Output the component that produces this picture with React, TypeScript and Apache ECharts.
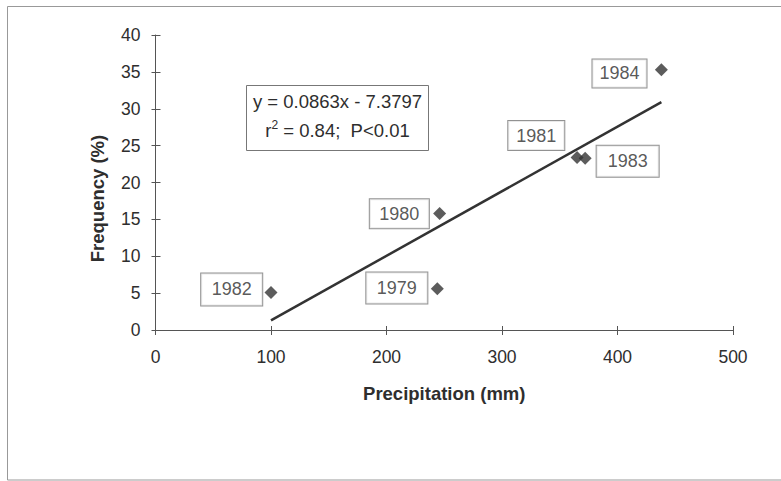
import React, { useEffect, useRef } from "react";
import * as echarts from "echarts";

// ---- data ----
const years = ["1979", "1980", "1981", "1982", "1983", "1984"];
const precipitation = [244, 246, 365, 100, 372, 438];
const frequency = [5.6, 15.8, 23.4, 5.1, 23.3, 35.3];

// regression line end points (y = 0.0863x - 7.3797)
const trendPrecip = [100, 438];
const trendFreq = [1.3, 30.9];

const xTicks = [0, 100, 200, 300, 400, 500];
const yTicks = [0, 5, 10, 15, 20, 25, 30, 35, 40];

const equationLine1 = "y = 0.0863x - 7.3797";
const equationLine2 = "r{sup|2} = 0.84;  P<0.01";

// label placement (pixel offsets from the point, and box paddings)
const labelOffsets: Record<string, [number, number]> = {
  "1979": [-40.5, -0.7],
  "1980": [-40.3, 0.3],
  "1981": [-40.8, -21.9],
  "1982": [-39.3, -2.9],
  "1983": [42.5, 3.1],
  "1984": [-41.9, 3.8],
};
const labelPads: Record<string, [number, number]> = {
  "1979": [6.5, 10.5],
  "1980": [5.5, 9.5],
  "1981": [5.5, 8],
  "1982": [7, 10.5],
  "1983": [6.5, 11],
  "1984": [5, 7],
};

const FONT = "'Liberation Sans', Arial, sans-serif";
const TEXT = "#2e2e2e";
const AXIS = "#555";

export default function App() {
  const ref = useRef<HTMLDivElement>(null);

  useEffect(() => {
    document.body.style.margin = "0";
    if (!ref.current) return;
    const chart = echarts.init(ref.current, null, { renderer: "svg" });

    const scatterData = years.map((yr, i) => ({
      value: [precipitation[i], frequency[i]],
      name: yr,
      label: {
        offset: labelOffsets[yr],
        padding: labelPads[yr],
      },
    }));

    const axisCommon = {
      axisLine: { show: true, lineStyle: { color: AXIS, width: 1 } },
      splitLine: { show: false },
    };

    const option: any = {
      animation: false,
      backgroundColor: "#fff",
      textStyle: { fontFamily: FONT },
      grid: [{ left: 155.5, right: 48, top: 35, bottom: 151 }],
      xAxis: [
        {
          type: "value",
          min: xTicks[0],
          max: xTicks[xTicks.length - 1],
          interval: 100,
          ...axisCommon,
          axisTick: { show: true, inside: false, length: 5, lineStyle: { color: AXIS } },
          axisLabel: { color: TEXT, fontSize: 17.5, fontFamily: FONT, margin: 18 },
          name: "Precipitation (mm)",
          nameLocation: "middle",
          nameGap: 54,
          nameTextStyle: { color: TEXT, fontSize: 18.5, fontWeight: "bold", fontFamily: FONT },
        },
        {
          type: "value",
          min: xTicks[0],
          max: xTicks[xTicks.length - 1],
          interval: 100,
          position: "bottom",
          axisLine: { show: false },
          splitLine: { show: false },
          axisTick: { show: true, inside: true, length: 4, lineStyle: { color: AXIS } },
          axisLabel: { show: false },
        },
      ],
      yAxis: [
        {
          type: "value",
          min: yTicks[0],
          max: yTicks[yTicks.length - 1],
          interval: 5,
          ...axisCommon,
          axisTick: { show: true, inside: false, length: 4, lineStyle: { color: AXIS } },
          axisLabel: { color: TEXT, fontSize: 17.5, fontFamily: FONT, margin: 15 },
          name: "Frequency (%)",
          nameLocation: "middle",
          nameGap: 49,
          nameTextStyle: {
            color: TEXT,
            fontSize: 18.5,
            fontWeight: "bold",
            fontFamily: FONT,
            padding: [0, 32, 0, 0],
          },
        },
        {
          type: "value",
          min: yTicks[0],
          max: yTicks[yTicks.length - 1],
          interval: 5,
          position: "left",
          axisLine: { show: false },
          splitLine: { show: false },
          axisTick: { show: true, inside: true, length: 5, lineStyle: { color: AXIS } },
          axisLabel: { show: false },
        },
      ],
      series: [
        {
          type: "line",
          data: trendPrecip.map((x, i) => [x, trendFreq[i]]),
          showSymbol: false,
          symbol: "none",
          lineStyle: { color: "#333", width: 2.5 },
          z: 2,
        },
        {
          type: "scatter",
          data: scatterData,
          symbol: "diamond",
          symbolSize: 13,
          itemStyle: { color: "#333" },
          z: 3,
          label: {
            show: true,
            position: "inside",
            formatter: (p: any) => p.name,
            color: TEXT,
            fontSize: 18,
            lineHeight: 18,
            fontFamily: FONT,
            backgroundColor: "#fff",
            borderColor: "#777",
            borderWidth: 1,
          },
        },
      ],
      graphic: [
        {
          type: "rect",
          shape: { x: 7.5, y: 6.5, width: 820, height: 473.5 },
          style: { fill: "none", stroke: "#999", lineWidth: 1 },
          silent: true,
          z: -1,
        },
        {
          type: "rect",
          shape: { x: 246.5, y: 85.5, width: 182, height: 65 },
          style: { fill: "#fff", stroke: "#777", lineWidth: 1 },
          z: 10,
        },
        {
          type: "text",
          x: 337.5,
          y: 101,
          style: {
            text: equationLine1,
            fill: TEXT,
            fontSize: 18.5,
            fontFamily: FONT,
            align: "center",
            verticalAlign: "middle",
          },
          z: 11,
        },
        {
          type: "text",
          x: 337.5,
          y: 130,
          style: {
            text: equationLine2,
            fill: TEXT,
            fontSize: 18.5,
            fontFamily: FONT,
            align: "center",
            verticalAlign: "middle",
            rich: {
              sup: { fontSize: 12, fontFamily: FONT, fill: TEXT, verticalAlign: "top", padding: [0, 0, 10, 0] },
            },
          },
          z: 11,
        },
      ],
    };

    chart.setOption(option);
    return () => chart.dispose();
  }, []);

  return <div ref={ref} style={{ width: 781, height: 481 }} />;
}
